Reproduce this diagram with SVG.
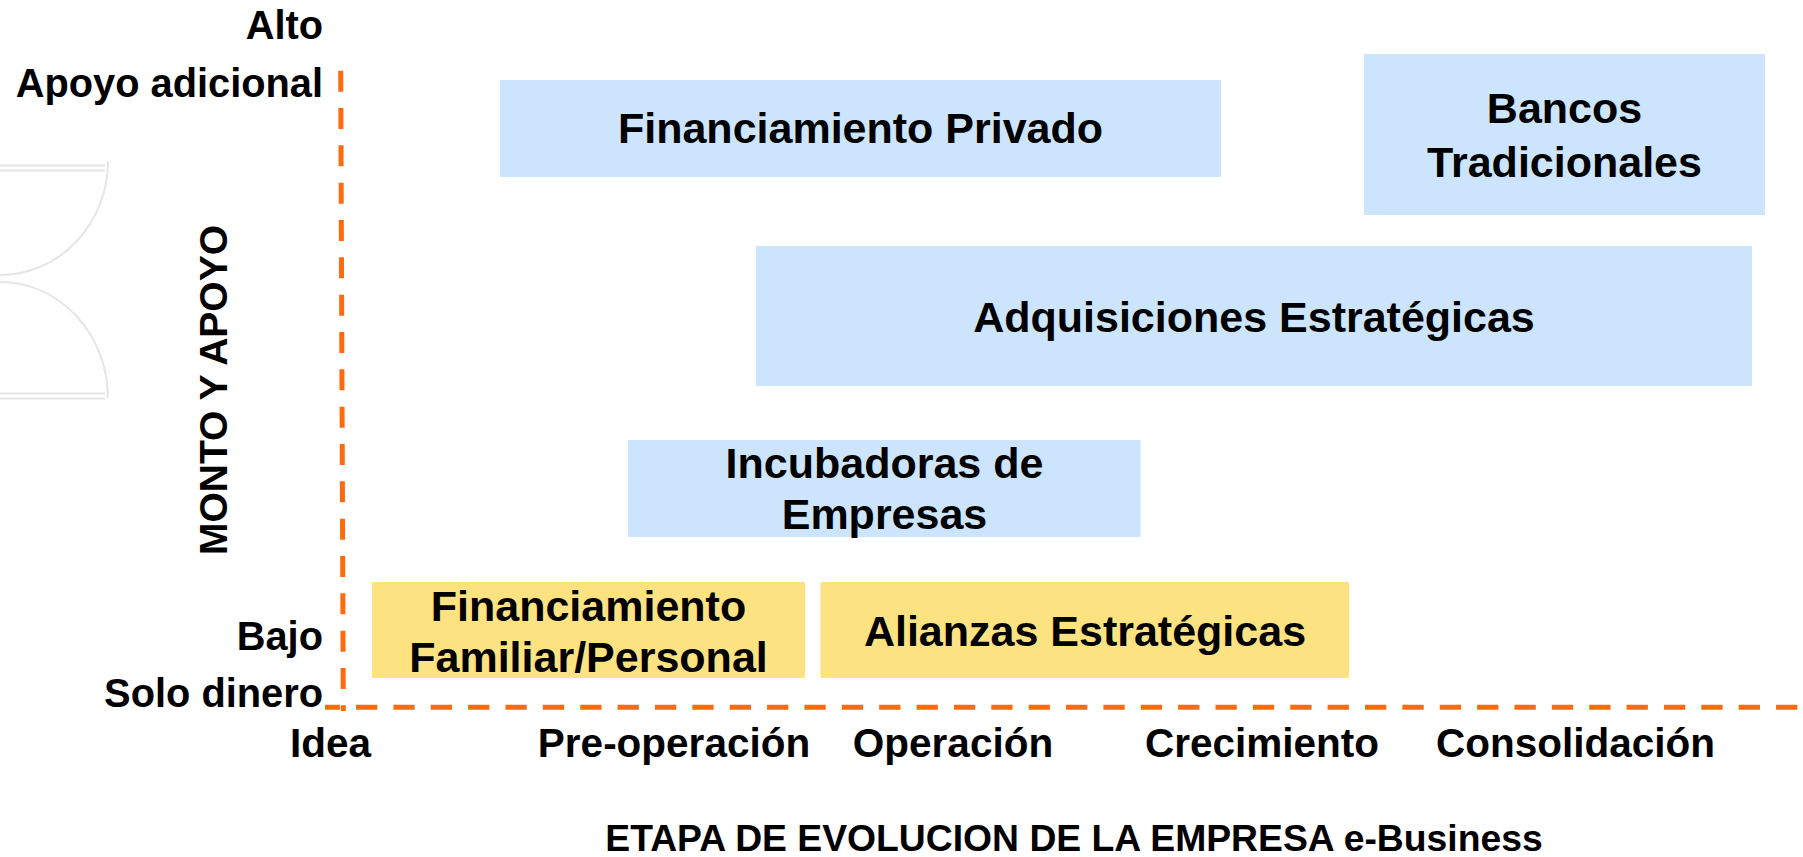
<svg xmlns="http://www.w3.org/2000/svg" width="1803" height="857" viewBox="0 0 1803 857">
  <style>
    text { font-family: "Liberation Sans", Arial, sans-serif; font-weight: bold; fill: #000; }
    .ax { font-size: 39.8px; text-anchor: end; }
    .st { font-size: 40.5px; text-anchor: middle; }
    .bx { font-size: 43px; text-anchor: middle; }
    .blue { fill: #CCE5FD; }
    .yel { fill: #FDE281; }
    .deco { fill: none; stroke: #E6E6E6; stroke-width: 2; }
    .axis { fill: none; stroke: #FF6A0A; stroke-width: 5; }
  </style>
  <rect width="1803" height="857" fill="#FFFFFF"/>
  <g id="decoration">
    <line class="deco" x1="0" y1="165.5" x2="105" y2="165.5"/>
    <line class="deco" x1="0" y1="170.5" x2="105" y2="170.5"/>
    <path class="deco" d="M108,161 A108,114 0 0 1 0,275"/>
    <path class="deco" d="M0,282 A108,116 0 0 1 108,398"/>
    <line class="deco" x1="0" y1="393.5" x2="105" y2="393.5"/>
    <line class="deco" x1="0" y1="398.5" x2="105" y2="398.5"/>
  </g>
  <g id="connectors">
    <line class="axis" x1="340.7" y1="70.7" x2="343.3" y2="711" stroke-dasharray="21 16.33"/>
    <line class="axis" x1="325" y1="707.3" x2="1803" y2="707.3" stroke-dasharray="21.3 16.07" stroke-dashoffset="6.37"/>
  </g>
  <g id="axis-labels">
    <text class="ax" x="323" y="39">Alto</text>
    <text class="ax" x="323" y="97">Apoyo adicional</text>
    <text class="ax" x="323" y="650">Bajo</text>
    <text class="ax" x="323" y="707">Solo dinero</text>
    <text x="227" y="390" font-size="39" text-anchor="middle" transform="rotate(-90 227 390)">MONTO Y APOYO</text>
    <text class="st" x="330.5" y="757">Idea</text>
    <text class="st" x="674" y="757">Pre-operación</text>
    <text class="st" x="953" y="757">Operación</text>
    <text class="st" x="1262" y="757">Crecimiento</text>
    <text class="st" x="1575.5" y="757">Consolidación</text>
    <text x="1074" y="851" font-size="37.3" text-anchor="middle">ETAPA DE EVOLUCION DE LA EMPRESA e-Business</text>
  </g>
  <g id="financiamiento-privado">
    <rect class="blue" x="500" y="80" width="721" height="97"/>
    <text class="bx" x="860.5" y="143">Financiamiento Privado</text>
  </g>
  <g id="bancos-tradicionales">
    <rect class="blue" x="1364" y="54" width="401" height="161"/>
    <text class="bx" x="1564.5" y="123">Bancos</text>
    <text class="bx" x="1564.5" y="177">Tradicionales</text>
  </g>
  <g id="adquisiciones-estrategicas">
    <rect class="blue" x="756" y="246" width="996" height="140"/>
    <text class="bx" x="1254" y="332">Adquisiciones Estratégicas</text>
  </g>
  <g id="incubadoras">
    <rect class="blue" x="628" y="440" width="512.5" height="97"/>
    <text class="bx" x="884.5" y="477.5">Incubadoras de</text>
    <text class="bx" x="884.5" y="528.5">Empresas</text>
  </g>
  <g id="financiamiento-familiar">
    <rect class="yel" x="372" y="582" width="433" height="96"/>
    <text class="bx" x="588.5" y="621">Financiamiento</text>
    <text class="bx" x="588.5" y="672">Familiar/Personal</text>
  </g>
  <g id="alianzas-estrategicas">
    <rect class="yel" x="820.5" y="582" width="528.5" height="96"/>
    <text class="bx" x="1085" y="646">Alianzas Estratégicas</text>
  </g>
</svg>
